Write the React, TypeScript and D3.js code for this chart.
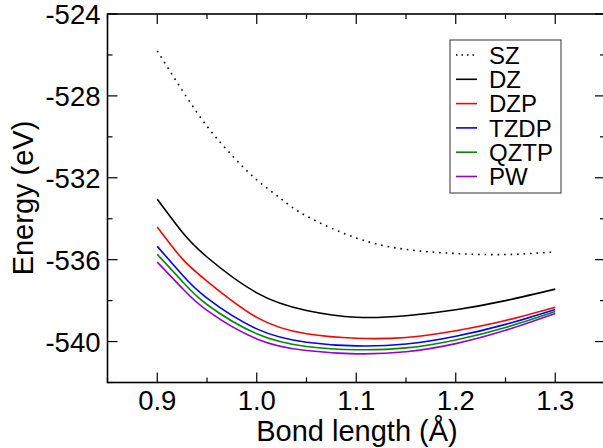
import React from "react";
import * as d3 from "d3";

const bondSZ = [0.9, 0.925, 0.95, 0.975, 1.0, 1.025, 1.05, 1.1, 1.15, 1.2, 1.25, 1.3];
const energySZ = [-525.8, -527.72, -529.48, -530.9, -532.1, -533.05, -533.87, -534.94, -535.5, -535.7, -535.75, -535.62];

const bond = [0.9, 0.925, 0.95, 1.0, 1.05, 1.1, 1.15, 1.2, 1.25, 1.3];
const energyDZ = [-533.05, -534.65, -535.87, -537.62, -538.48, -538.81, -538.74, -538.45, -538.0, -537.44];
const energyDZP = [-534.4, -535.95, -537.05, -538.82, -539.62, -539.84, -539.8, -539.47, -538.97, -538.32];
const energyTZDP = [-535.35, -536.74, -537.88, -539.38, -540.03, -540.21, -540.12, -539.74, -539.16, -538.43];
const energyQZTP = [-535.74, -537.05, -538.19, -539.62, -540.24, -540.4, -540.31, -539.92, -539.31, -538.53];
const energyPW = [-536.12, -537.39, -538.48, -539.87, -540.44, -540.6, -540.5, -540.1, -539.45, -538.63];

const seriesNames = ["SZ", "DZ", "DZP", "TZDP", "QZTP", "PW"];
const seriesColors = ["#000000", "#000000", "#ff0000", "#0000ff", "#008b00", "#9400d3"];

const xMajorTicks = [0.9, 1.0, 1.1, 1.2, 1.3];
const xMinorTicks = [0.85, 0.95, 1.05, 1.15, 1.25, 1.35];
const yMajorTicks = [-524, -528, -532, -536, -540];
const yMinorTicks = [-526, -530, -534, -538, -542];

const FONT = "'Liberation Sans', Arial, Helvetica, sans-serif";

export default function App() {
  const x = d3.scaleLinear().domain([0.85, 1.35]).range([107.5, 605]);
  const y = d3.scaleLinear().domain([-542, -524]).range([382.5, 14]);

  const series = [
    { xs: bondSZ, ys: energySZ },
    { xs: bond, ys: energyDZ },
    { xs: bond, ys: energyDZP },
    { xs: bond, ys: energyTZDP },
    { xs: bond, ys: energyQZTP },
    { xs: bond, ys: energyPW },
  ];

  const line = d3
    .line<[number, number]>()
    .x((d) => x(d[0]))
    .y((d) => y(d[1]))
    .curve(d3.curveNatural);

  const left = x(0.85);
  const right = x(1.35);
  const top = y(-524);
  const bottom = y(-542);

  const major = 10;
  const minor = 5;

  const legendX = 450;
  const legendY = 40;
  const legendRowH = 24.3;

  return (
    <svg
      width={603}
      height={448}
      style={{ position: "absolute", left: 0, top: 0, background: "#fff" }}
      fontFamily={FONT}
    >
      <rect x={0} y={0} width={603} height={448} fill="#fff" />
      {series.map((s, i) => (
        <path
          key={i}
          d={line(s.xs.map((v, j) => [v, s.ys[j]] as [number, number])) || ""}
          fill="none"
          stroke={seriesColors[i]}
          strokeWidth={1.6}
          strokeDasharray={i === 0 ? "1.6,4.9" : undefined}
        />
      ))}

      {/* frame */}
      <rect x={left} y={top} width={right - left} height={bottom - top} fill="none" stroke="#000" strokeWidth={1.6} />

      {/* x ticks */}
      {xMajorTicks.map((t) => (
        <g key={"xM" + t}>
          <line x1={x(t)} x2={x(t)} y1={bottom} y2={bottom - major} stroke="#000" strokeWidth={1.2} />
          <line x1={x(t)} x2={x(t)} y1={top} y2={top + major} stroke="#000" strokeWidth={1.2} />
          <text x={x(t)} y={409.5} textAnchor="middle" fontSize={27.5}>
            {t.toFixed(1)}
          </text>
        </g>
      ))}
      {xMinorTicks.map((t) => (
        <g key={"xm" + t}>
          <line x1={x(t)} x2={x(t)} y1={bottom} y2={bottom - minor} stroke="#000" strokeWidth={1.2} />
          <line x1={x(t)} x2={x(t)} y1={top} y2={top + minor} stroke="#000" strokeWidth={1.2} />
        </g>
      ))}
      {/* y ticks */}
      {yMajorTicks.map((t) => (
        <g key={"yM" + t}>
          <line x1={left} x2={left + major} y1={y(t)} y2={y(t)} stroke="#000" strokeWidth={1.2} />
          <line x1={right} x2={right - major} y1={y(t)} y2={y(t)} stroke="#000" strokeWidth={1.2} />
          <text x={100.5} y={y(t) + 10.2} textAnchor="end" fontSize={27.5}>
            {String(t)}
          </text>
        </g>
      ))}
      {yMinorTicks.map((t) => (
        <g key={"ym" + t}>
          <line x1={left} x2={left + minor} y1={y(t)} y2={y(t)} stroke="#000" strokeWidth={1.2} />
          <line x1={right} x2={right - minor} y1={y(t)} y2={y(t)} stroke="#000" strokeWidth={1.2} />
        </g>
      ))}

      {/* axis titles */}
      <text x={357} y={441} textAnchor="middle" fontSize={29}>
        Bond length (Å)
      </text>
      <text transform={`translate(33,198) rotate(-90)`} textAnchor="middle" fontSize={29}>
        Energy (eV)
      </text>

      {/* legend */}
      <rect x={legendX} y={legendY} width={111} height={153} fill="#fff" stroke="#333" strokeWidth={1} />
      {seriesNames.map((n, i) => {
        const cy = 55 + i * legendRowH;
        return (
          <g key={n}>
            <line
              x1={456}
              x2={477}
              y1={cy}
              y2={cy}
              stroke={seriesColors[i]}
              strokeWidth={1.6}
              strokeDasharray={i === 0 ? "1.5,4" : undefined}
            />
            <text x={489} y={cy + 8.6} fontSize={24}>
              {n}
            </text>
          </g>
        );
      })}
    </svg>
  );
}
